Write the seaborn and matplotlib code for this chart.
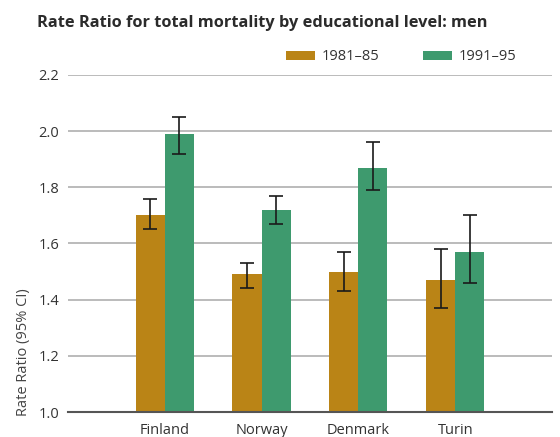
import matplotlib
matplotlib.use("Agg")
import matplotlib.pyplot as plt
import seaborn as sns
import pandas as pd
import numpy as np

countries = ["Finland", "Norway", "Denmark", "Turin"]
periods = ["1981–85", "1991–95"]
rr_1981 = [1.70, 1.49, 1.50, 1.47]
lo_1981 = [1.65, 1.44, 1.43, 1.37]
hi_1981 = [1.76, 1.53, 1.57, 1.58]
rr_1991 = [1.99, 1.72, 1.87, 1.57]
lo_1991 = [1.92, 1.67, 1.79, 1.46]
hi_1991 = [2.05, 1.77, 1.96, 1.70]
yticks = [1.0, 1.2, 1.4, 1.6, 1.8, 2.0, 2.2]

sns.set_style("white")
plt.rcParams['font.family'] = ['Open Sans', 'DejaVu Sans']

df = pd.DataFrame({
    "country": countries * 2,
    "period": [periods[0]] * 4 + [periods[1]] * 4,
    "rr": rr_1981 + rr_1991,
    "lo": lo_1981 + lo_1991,
    "hi": hi_1981 + hi_1991,
})

colors = ["#BA8416", "#3E9A6E"]
fig = plt.figure(figsize=(5.6, 4.37), dpi=100)
ax = fig.add_axes([0.121, 0.0572, 0.865, 0.7712])

sns.barplot(data=df, x="country", y="rr", hue="period", order=countries,
            hue_order=periods, palette=colors, width=0.6, ax=ax,
            saturation=1, legend=False, errorbar=None, zorder=3,
            linewidth=0, edgecolor="none")

# error bars from patch positions
for i, per in enumerate(periods):
    sub = df[df.period == per].set_index("country").loc[countries]
    conts = ax.containers[i]
    xs = [p.get_x() + p.get_width() / 2 for p in conts.patches]
    y = sub["rr"].values
    ax.errorbar(xs, y, yerr=[y - sub["lo"].values, sub["hi"].values - y],
                fmt="none", ecolor="#1a1a1a", elinewidth=1.2, capsize=5,
                capthick=1.2, zorder=4)

ax.set_ylim(1.0, 2.2)
ax.set_xlim(-1.0, 4.0)
ax.set_yticks(yticks)
ax.set_yticklabels([f"{v:.1f}" for v in yticks])
ax.yaxis.grid(True, color="#b5b5b5", linewidth=1.3, zorder=0)
ax.set_axisbelow(True)
for s in ["top", "right", "left"]:
    ax.spines[s].set_visible(False)
ax.spines["bottom"].set_color("#555555")
ax.spines["bottom"].set_linewidth(1.5)
ax.spines["bottom"].set_zorder(5)
ax.tick_params(axis="both", length=0, labelsize=10.5, colors="#333333", pad=6)
ax.tick_params(axis="x", pad=8)
ax.set_xlabel("")
ax.set_ylabel("Rate Ratio (95% CI)", fontsize=10.5, color="#444444")
ax.yaxis.set_label_coords(-0.075, -0.012, transform=ax.transAxes)
ax.yaxis.label.set_verticalalignment("bottom")
ax.yaxis.label.set_horizontalalignment("left")

fig.text(0.066, 0.948, "Rate Ratio for total mortality by educational level: men",
         fontsize=11.8, fontweight="bold", color="#2b2b2b", va="center", ha="left")

from matplotlib.patches import Patch
handles = [Patch(facecolor=c, edgecolor="none") for c in colors]
fig.legend(handles, periods, loc="center right", bbox_to_anchor=(0.946, 0.87),
           ncol=2, frameon=False, fontsize=10.5, handlelength=2.0, handleheight=0.6,
           columnspacing=3.0, handletextpad=0.45, labelcolor="#333333")

fig.savefig("out.png", dpi=100)
